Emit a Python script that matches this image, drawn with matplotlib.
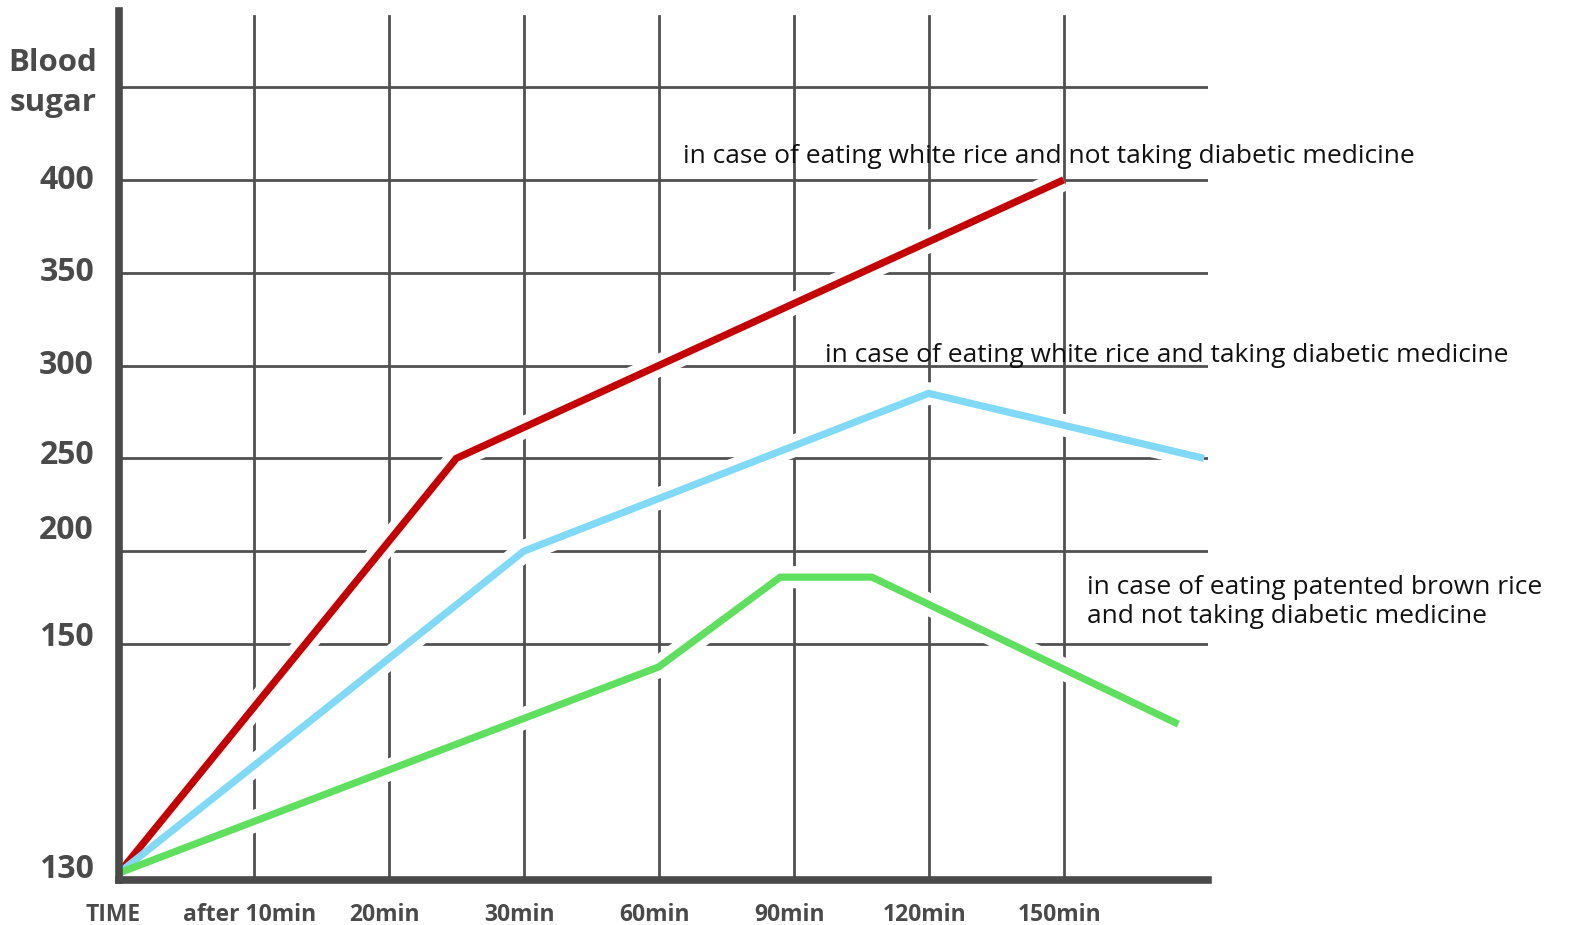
import numpy as np
import matplotlib
matplotlib.use("Agg")
import matplotlib.pyplot as plt
from matplotlib.transforms import ScaledTranslation

# ---- data -------------------------------------------------------------
time_labels = ["TIME", "after 10min", "20min", "30min", "60min", "90min", "120min", "150min"]
time_slots = [0, 1, 2, 3, 4, 5, 6, 7]

y_tick_values = [130, 150, 200, 250, 300, 350, 400]
grid_levels = [150, 200, 250, 300, 350, 400, 450]

# white rice, no medicine
red_t = [0, 2.5, 7]
red_v = [130, 250, 400]
# white rice, with medicine
blue_t = [0, 3, 6, 8.04]
blue_v = [130, 200, 285, 250]
# patented brown rice, no medicine
green_t = [0, 4, 4.9, 5.58, 7.85]
green_v = [130, 148, 186, 186, 143]

label_red = "in case of eating white rice and not taking diabetic medicine"
label_blue = "in case of eating white rice and taking diabetic medicine"
label_green = "in case of eating patented brown rice\nand not taking diabetic medicine"

# ---- styling ------------------------------------------------------------
AXIS_COLOR = "#4a4a4a"
GRID_COLOR = "#505050"
RED = "#c40000"
BLUE = "#80d9f6"
GREEN = "#5ee05e"
BOLD_FONT = "Open Sans"
TEXT_FONT = "Open Sans"


# Blood-sugar axis: the 130-150 band is stretched, 50-unit steps above it
def to_axis(v):
    v = np.asarray(v, dtype=float)
    return np.where(v < 150, (v - 130) * 229.0 / 20.0, 229.0 + (v - 150) * 557.0 / 300.0)


def from_axis(p):
    p = np.asarray(p, dtype=float)
    return np.where(p < 229, 130 + p * 20.0 / 229.0, 150 + (p - 229) * 300.0 / 557.0)


fig = plt.figure(figsize=(15.69, 9.25), dpi=100)
ax = fig.add_axes([119 / 1569, 45 / 925, 1089 / 1569, 869 / 925])
ax.set_yscale("function", functions=(to_axis, from_axis))
ax.set_xlim(0, 8.07)
ax.set_ylim(float(from_axis(-7)), float(from_axis(862)))

# grid
for lvl in grid_levels:
    ax.axhline(lvl, color=GRID_COLOR, lw=2.0, zorder=1)
for t in time_slots[1:]:
    ax.axvline(t, ymax=0.994, color=GRID_COLOR, lw=2.0, zorder=1)

# series: white halos first, then the coloured lines on top
series = [(red_t, red_v, RED), (blue_t, blue_v, BLUE), (green_t, green_v, GREEN)]
for t, v, _ in series:
    ax.plot(t, v, color="white", lw=16, solid_capstyle="butt",
            solid_joinstyle="round", zorder=2)
for t, v, c in series:
    ax.plot(t, v, color=c, lw=5.2, solid_capstyle="butt",
            solid_joinstyle="miter", zorder=3)

# axes frame
for side in ("top", "right"):
    ax.spines[side].set_visible(False)
for side in ("left", "bottom"):
    ax.spines[side].set_color(AXIS_COLOR)
    ax.spines[side].set_linewidth(5.5)
    ax.spines[side].set_capstyle("projecting")
    ax.spines[side].set_zorder(5)
ax.set_xticks([])
ax.set_yticks([], minor=True)
ax.set_yticks([])

# y labels
y_label_shift_px = [3, 7, 21, 3, 0, 0, -1]
for v, dy in zip(y_tick_values, y_label_shift_px):
    tr = ax.get_yaxis_transform() + ScaledTranslation(-25 / 100, dy / 100, fig.dpi_scale_trans)
    ax.text(0, v, str(v), transform=tr, ha="right", va="center",
            fontsize=23, fontweight="bold", family=BOLD_FONT, color=AXIS_COLOR)

# x labels
for t, lab in zip(time_slots, time_labels):
    dx = -6 if t == 0 else -4
    tr = ax.get_xaxis_transform() + ScaledTranslation(dx / 100, -23 / 100, fig.dpi_scale_trans)
    ax.text(t, 0, lab, transform=tr, ha="center", va="top",
            fontsize=16.5, fontweight="bold", family=BOLD_FONT, color=AXIS_COLOR)

fig.text(97 / 1569, 1 - 83 / 925, "Blood\nsugar", ha="right", va="center",
         fontsize=22.5, fontweight="bold", family=BOLD_FONT, color=AXIS_COLOR,
         linespacing=1.42)

# series labels
ax.text(4.18, 409, label_red, ha="left", va="baseline", fontsize=19,
        family=TEXT_FONT, color="#111111", zorder=6)
ax.text(5.23, 302, label_blue, ha="left", va="baseline", fontsize=19,
        family=TEXT_FONT, color="#111111", zorder=6)
ax.text(7.17, 161.3, label_green, ha="left", va="baseline", fontsize=19,
        family=TEXT_FONT, color="#111111", zorder=6, linespacing=1.2)

fig.savefig("out.png", dpi=100)
